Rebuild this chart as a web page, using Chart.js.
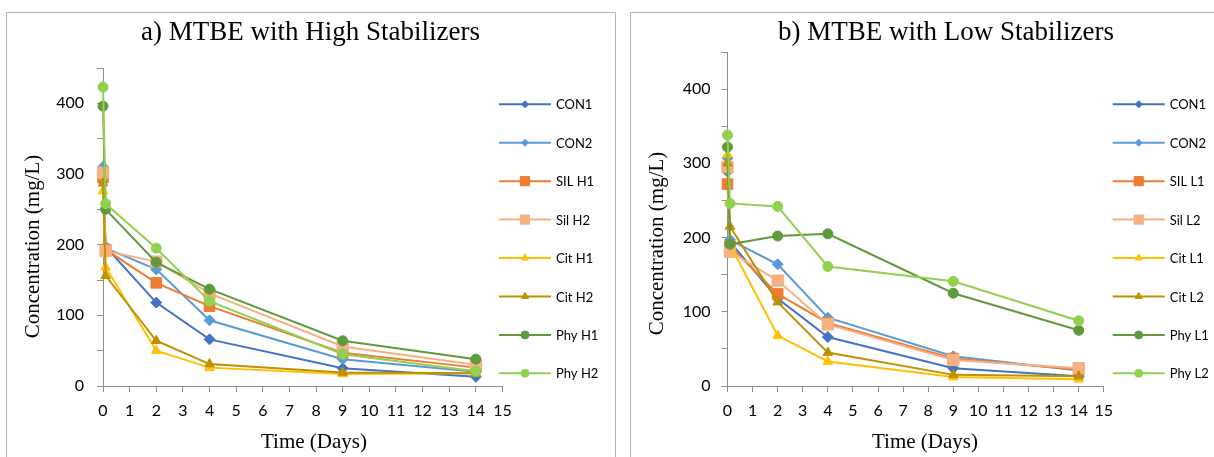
<!DOCTYPE html>
<html>
<head>
<meta charset="utf-8">
<title>MTBE with stabilizers</title>
<script src="https://cdn.jsdelivr.net/npm/chart.js"></script>
<style>
  html, body { margin: 0; padding: 0; background: #fff; }
  body { position: relative; width: 1214px; height: 457px; overflow: hidden; }
  .frame { position: absolute; top: 12px; height: 470px; border: 1px solid #b4b4b4; box-sizing: border-box; }
  #frameA { left: 6px; width: 610px; }
  #frameB { left: 630px; width: 650px; }
  canvas { position: absolute; top: 0; }
  #chartA { left: 0; }
  #chartB { left: 630px; }
</style>
</head>
<body>
<div class="frame" id="frameA"></div>
<div class="frame" id="frameB"></div>
<canvas id="chartA" width="620" height="457"></canvas>
<canvas id="chartB" width="632" height="457"></canvas>
<script>
// Sampling times (days); 0.1 is the first sample taken a couple of hours in.
const DAYS = [0, 0.1, 2, 4, 9, 14];
const X_MIN = 0, X_MAX = 15, X_STEP = 1;
const Y_MIN = 0, Y_MAX = 450, Y_STEP = 50, Y_LABEL_EVERY = 100;

const HIGH_LABELS = ["CON1", "CON2", "SIL H1", "Sil H2", "Cit H1", "Cit H2", "Phy H1", "Phy H2"];
const LOW_LABELS = ["CON1", "CON2", "SIL L1", "Sil L2", "Cit L1", "Cit L2", "Phy L1", "Phy L2"];

// a) high stabilizer dose, MTBE in mg/L
const HIGH_CON1 = [289, 197, 118, 66, 25, 13];
const HIGH_CON2 = [310, 195, 165, 93, 38, 20];
const HIGH_SIL1 = [296, 193, 146, 113, 47, 26];
const HIGH_SIL2 = [302, 191, 176, 131, 56, 30];
const HIGH_CIT1 = [276, 168, 50, 26, 17, 18];
const HIGH_CIT2 = [287, 156, 64, 31, 19, 18];
const HIGH_PHY1 = [396, 250, 175, 137, 64, 38];
const HIGH_PHY2 = [423, 258, 195, 120, 45, 21];

// b) low stabilizer dose, MTBE in mg/L
const LOW_CON1 = [289, 194, 118, 66, 24, 13];
const LOW_CON2 = [307, 197, 164, 92, 40, 21];
const LOW_SIL1 = [272, 188, 124, 85, 37, 22];
const LOW_SIL2 = [295, 181, 142, 83, 35, 24];
const LOW_CIT1 = [312, 190, 68, 33, 12, 9];
const LOW_CIT2 = [300, 215, 113, 45, 15, 13];
const LOW_PHY1 = [322, 191, 202, 205, 125, 75];
const LOW_PHY2 = [338, 246, 242, 161, 141, 88];

// one look per series slot, shared by both panels
const STYLE = [
  { color: "#4472c4", marker: "rectRot",  r: 5.5, keyR: 3.5 },
  { color: "#5b9bd5", marker: "rectRot",  r: 5.5, keyR: 3.5 },
  { color: "#ed7d31", marker: "rect",     r: 7.5, keyR: 6.5 },
  { color: "#f4b183", marker: "rect",     r: 8,   keyR: 6.5 },
  { color: "#ffc000", marker: "triangle", r: 5.5, keyR: 4 },
  { color: "#bf9000", marker: "triangle", r: 5.5, keyR: 4 },
  { color: "#5f9a3d", marker: "circle",   r: 5,   keyR: 4 },
  { color: "#92d050", marker: "circle",   r: 5,   keyR: 4 },
];

const AXIS_GREY = "#8f8f8f";
const TICK_FONT = { family: "Lato", size: 16 };
const SERIF = "Liberation Serif";

function makeDatasets(labels, values) {
  return labels.map((label, i) => ({
    label,
    data: DAYS.map((d, j) => ({ x: d, y: values[i][j] })),
    borderColor: STYLE[i].color,
    backgroundColor: STYLE[i].color,
    borderWidth: 2,
    pointStyle: STYLE[i].marker,
    pointRadius: STYLE[i].r,
    pointBorderWidth: 1,
    keyRadius: STYLE[i].keyR,
    tension: 0,
    clip: false,
    // later series paint over earlier ones
    order: labels.length - i,
  }));
}

// Series key on the right: line with the marker in its middle, then the name.
const seriesKey = {
  id: "seriesKey",
  afterDraw(chart, args, opts) {
    const { ctx } = chart;
    ctx.save();
    ctx.font = `${opts.size}px ${opts.family}`;
    ctx.textBaseline = "middle";
    ctx.textAlign = "left";
    chart.data.datasets.forEach((ds, i) => {
      const y = opts.top + i * opts.step;
      ctx.strokeStyle = ds.borderColor;
      ctx.fillStyle = ds.borderColor;
      ctx.lineWidth = 2;
      ctx.beginPath();
      ctx.moveTo(opts.x, y);
      ctx.lineTo(opts.x + opts.len, y);
      ctx.stroke();
      ctx.lineWidth = 1;
      Chart.helpers.drawPoint(ctx, { pointStyle: ds.pointStyle, radius: ds.keyRadius, borderWidth: 1, rotation: 0 },
        opts.x + opts.len / 2, y);
      ctx.fillStyle = "#000";
      ctx.fillText(ds.label, opts.x + opts.len + opts.gap, y + 1);
    });
    ctx.restore();
  },
};

// Panel heading and axis captions, centred on the given points.
const captions = {
  id: "captions",
  afterDraw(chart, args, opts) {
    const { ctx } = chart;
    ctx.save();
    ctx.fillStyle = "#000";
    ctx.textAlign = "center";
    ctx.textBaseline = "middle";
    ctx.font = `${opts.titleSize}px ${SERIF}`;
    ctx.fillText(opts.title, opts.titleAt[0], opts.titleAt[1]);
    ctx.font = `${opts.size}px ${SERIF}`;
    ctx.fillText(opts.xText, opts.xAt[0], opts.xAt[1]);
    ctx.translate(opts.yAt[0], opts.yAt[1]);
    ctx.rotate(-Math.PI / 2);
    ctx.fillText(opts.yText, 0, 0);
    ctx.restore();
  },
};

function panel(canvasId, title, labels, values, geo) {
  return new Chart(document.getElementById(canvasId), {
    type: "line",
    data: { datasets: makeDatasets(labels, values) },
    plugins: [seriesKey, captions],
    options: {
      responsive: false,
      animation: false,
      devicePixelRatio: 1,
      layout: { padding: { left: 0, right: geo.padRight, top: geo.plotTop, bottom: 0 } },
      scales: {
        x: {
          type: "linear",
          min: X_MIN,
          max: X_MAX,
          afterFit: (s) => { s.height = geo.xAxisHeight; },
          ticks: { stepSize: X_STEP, color: "#000", font: TICK_FONT, padding: 9, maxRotation: 0, autoSkip: false },
          grid: { drawOnChartArea: false, drawTicks: true, tickLength: 6, color: AXIS_GREY },
          border: { display: true, color: AXIS_GREY, width: 1 },
        },
        y: {
          min: Y_MIN,
          max: Y_MAX,
          afterFit: (s) => { s.width = geo.yAxisWidth; },
          ticks: {
            stepSize: Y_STEP,
            color: "#000",
            font: TICK_FONT,
            padding: geo.yTickPad,
            callback: (v) => (v % Y_LABEL_EVERY === 0 ? v : ""),
          },
          grid: { drawOnChartArea: false, drawTicks: true, tickLength: 6, color: AXIS_GREY },
          border: { display: true, color: AXIS_GREY, width: 1 },
        },
      },
      plugins: {
        legend: { display: false },
        tooltip: { enabled: false },
        title: { display: false },
        seriesKey: { x: geo.keyX, len: 52, gap: 5, top: 104.3, step: 38.43, family: "Lato", size: 13 },
        captions: {
          title,
          titleSize: 27,
          titleAt: geo.titleAt,
          size: 21,
          xText: "Time (Days)",
          yText: "Concentration (mg/L)",
          xAt: geo.xTitleAt,
          yAt: geo.yTitleAt,
        },
      },
    },
  });
}

panel("chartA", "a) MTBE with High Stabilizers", HIGH_LABELS,
  [HIGH_CON1, HIGH_CON2, HIGH_SIL1, HIGH_SIL2, HIGH_CIT1, HIGH_CIT2, HIGH_PHY1, HIGH_PHY2],
  { padRight: 117.5, plotTop: 68, yAxisWidth: 103, xAxisHeight: 71, yTickPad: 13,
    titleAt: [310.5, 33], keyX: 499, xTitleAt: [314, 442], yTitleAt: [33, 246.5] });

panel("chartB", "b) MTBE with Low Stabilizers", LOW_LABELS,
  [LOW_CON1, LOW_CON2, LOW_SIL1, LOW_SIL2, LOW_CIT1, LOW_CIT2, LOW_PHY1, LOW_PHY2],
  { padRight: 158.2, plotTop: 52, yAxisWidth: 97.5, xAxisHeight: 71, yTickPad: 11,
    titleAt: [316, 33], keyX: 482.7, xTitleAt: [295, 442], yTitleAt: [27.5, 243.5] });
</script>
</body>
</html>
